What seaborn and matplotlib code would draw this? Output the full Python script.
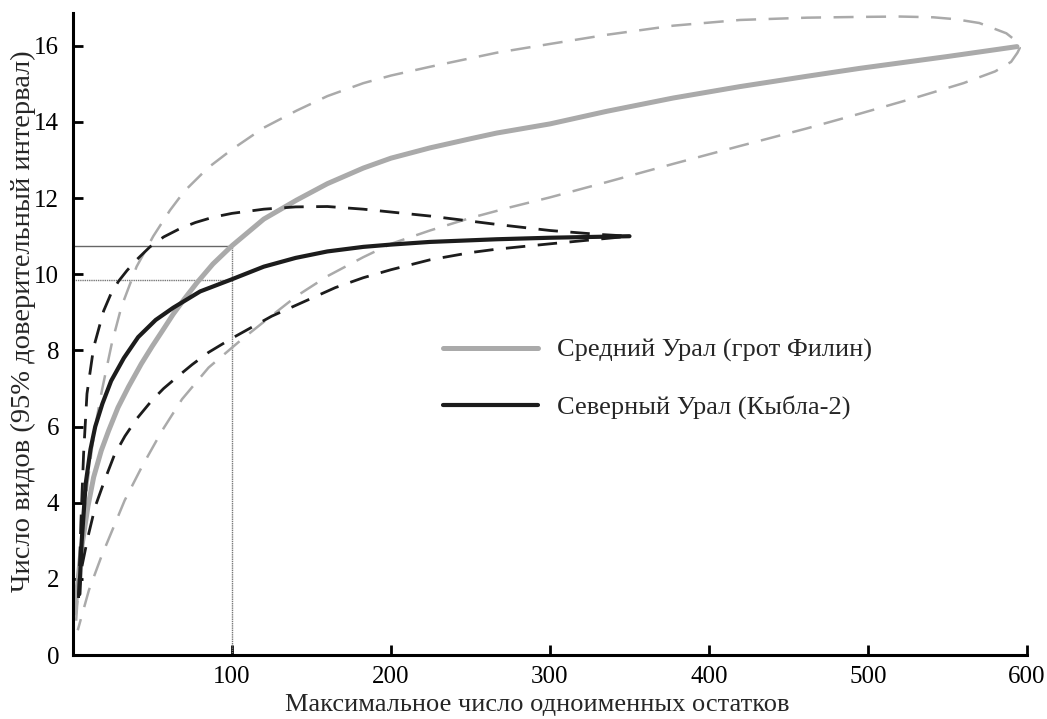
import numpy as np
import pandas as pd
import matplotlib
matplotlib.use("Agg")
import matplotlib.pyplot as plt
import seaborn as sns

# Средний Урал (грот Филин): кривая разрежения и 95% интервал
gray_x = [1.1, 5, 9.4, 13, 17.8, 22.4, 28.3, 35, 43, 50, 56, 63, 70, 78, 88, 100,
          120, 140.7, 160, 182.6, 200, 224.5, 250, 266.5, 300, 335.6, 377.5, 419.5,
          461.4, 495, 550, 593.7]
gray_y = [1.1, 2.7, 3.9, 4.67, 5.37, 5.89, 6.5, 7.05, 7.65, 8.12, 8.5, 8.95, 9.35, 9.78,
          10.27, 10.75, 11.45, 11.95, 12.38, 12.79, 13.05, 13.32, 13.56, 13.71, 13.95, 14.28,
          14.63, 14.93, 15.2, 15.41, 15.72, 15.98]
gray_up_x = [2, 4, 6.5, 9.4, 12, 15.1, 18.2, 24.5, 30.5, 40, 50.5, 61, 70, 85, 100, 120,
             140.7, 160, 182.6, 200, 224.5, 266.5, 300, 335.6, 377.5, 419.5, 461.4, 495,
             520, 541, 555, 570, 587, 594, 595.5]
gray_up_y = [0.9, 2.2, 3.5, 4.6, 5.45, 6.25, 6.95, 8.2, 9.15, 10.2, 11.0, 11.68, 12.18, 12.8,
             13.28, 13.85, 14.3, 14.68, 15.02, 15.22, 15.45, 15.82, 16.05, 16.29, 16.53,
             16.68, 16.74, 16.76, 16.77, 16.75, 16.7, 16.6, 16.33, 16.1, 15.95]
gray_lo_x = [3, 10, 17.8, 32.5, 43.4, 56, 68.6, 85.3, 105, 120, 140.7, 160, 182.6, 200,
             224.5, 250, 275, 300, 335.6, 377.5, 419.5, 461.4, 495, 530, 560, 580, 590, 594]
gray_lo_y = [0.65, 1.7, 2.58, 4.06, 4.95, 5.89, 6.72, 7.55, 8.25, 8.75, 9.43, 9.95, 10.45,
             10.8, 11.15, 11.48, 11.76, 12.02, 12.42, 12.9, 13.37, 13.83, 14.22, 14.64,
             15.02, 15.33, 15.58, 15.82]

# Северный Урал (Кыбла-2)
black_x = [4, 5.5, 8, 11, 14, 18.5, 24, 32, 41, 52, 63, 80, 100, 120, 140, 160, 182.6,
           200, 224.5, 266.5, 300, 350]
black_y = [1.6, 3.0, 4.5, 5.4, 6.0, 6.6, 7.2, 7.8, 8.35, 8.8, 9.12, 9.55, 9.87, 10.2,
           10.43, 10.6, 10.72, 10.78, 10.85, 10.92, 10.96, 11.0]
black_up_x = [3.5, 5, 6.7, 8.8, 13, 19.3, 24, 28.7, 34, 40, 48.4, 57, 67.3, 77, 88.2, 100,
              120, 140, 160, 182.6, 224.5, 266.5, 300, 330, 350]
black_up_y = [1.5, 3.5, 5.3, 6.86, 8.08, 9.04, 9.5, 9.82, 10.1, 10.38, 10.72, 10.98, 11.2,
              11.36, 11.5, 11.6, 11.71, 11.77, 11.78, 11.71, 11.53, 11.31, 11.15, 11.05, 11.0]
black_lo_x = [3.5, 5, 9.4, 14, 20, 26, 32.7, 40, 49.5, 57, 66, 75, 85.3, 100, 125, 149,
              165, 182.6, 200, 224.5, 250, 266.5, 300, 330, 350]
black_lo_y = [1.5, 2.2, 3.1, 3.9, 4.6, 5.25, 5.75, 6.2, 6.68, 7.0, 7.32, 7.63, 7.95, 8.32,
              8.9, 9.35, 9.65, 9.91, 10.12, 10.38, 10.57, 10.66, 10.8, 10.92, 11.0]

# опорные линии при 100 остатках
ref_x = 100
ref_y = [10.75, 9.85]

labels = ["Средний Урал (грот Филин)", "Северный Урал (Кыбла-2)"]

sns.set_style("ticks")
plt.rcParams["font.family"] = ["Liberation Serif", "DejaVu Serif"]

fig = plt.figure(figsize=(10.47, 7.19), dpi=100)
ax = fig.add_axes([0.0697, 0.089, 0.9112, 0.8933])

GRAY = "#aaaaaa"
BLACK = "#1c1c1c"

# опорные линии
ax.plot([0, ref_x], [ref_y[0], ref_y[0]], color="#666666", lw=1.0, zorder=1)
ax.plot([0, ref_x], [ref_y[1], ref_y[1]], color="#777777", lw=1.0, ls=(0, (1, 0.6)), zorder=1)
ax.plot([ref_x, ref_x], [0, ref_y[0]], color="#777777", lw=1.0, ls=(0, (1, 0.6)), zorder=1)

# серый доверительный интервал: верхняя граница, затем нижняя в обратном порядке
loop_x = gray_up_x + gray_lo_x[::-1]
loop_y = gray_up_y + gray_lo_y[::-1]
sns.lineplot(x=loop_x, y=loop_y, sort=False, estimator=None, ax=ax, color=GRAY,
             lw=1.8, linestyle=(0, (8, 5)))
sns.lineplot(x=gray_x, y=gray_y, sort=False, estimator=None, ax=ax, color=GRAY,
             lw=3.6, label=labels[0])

for bx, by in [(black_up_x, black_up_y), (black_lo_x, black_lo_y)]:
    sns.lineplot(x=bx, y=by, sort=False, estimator=None, ax=ax, color=BLACK,
                 lw=2.0, linestyle=(0, (7, 4.5)))
sns.lineplot(x=black_x, y=black_y, sort=False, estimator=None, ax=ax, color=BLACK,
             lw=3.0, label=labels[1])

ax.set_xlim(0, 600)
ax.set_ylim(0, 16.87)
ax.set_xticks([100, 200, 300, 400, 500, 600])
ax.set_yticks(np.arange(0, 17, 2))
ax.tick_params(direction="in", length=7, width=2, labelsize=18, colors="black")
ax.tick_params(axis="y", pad=10)
ax.tick_params(axis="x", pad=8)
for s in ["left", "bottom"]:
    ax.spines[s].set_linewidth(2.2)
    ax.spines[s].set_color("black")
sns.despine(ax=ax)

ax.set_xlabel("Максимальное число одноименных остатков", fontsize=19)
ax.set_ylabel("Число видов (95% доверительный интервал)", fontsize=20.5)
ax.xaxis.set_label_coords(0.487, -0.06)
ax.yaxis.set_label_coords(-0.039, 0.52)

ax.legend(loc="upper left", bbox_to_anchor=(0.388, 0.493), frameon=False,
          fontsize=19, handlelength=3.6, handletextpad=0.72, labelspacing=1.25,
          borderpad=0, borderaxespad=0)

fig.savefig("out.png", dpi=100)
